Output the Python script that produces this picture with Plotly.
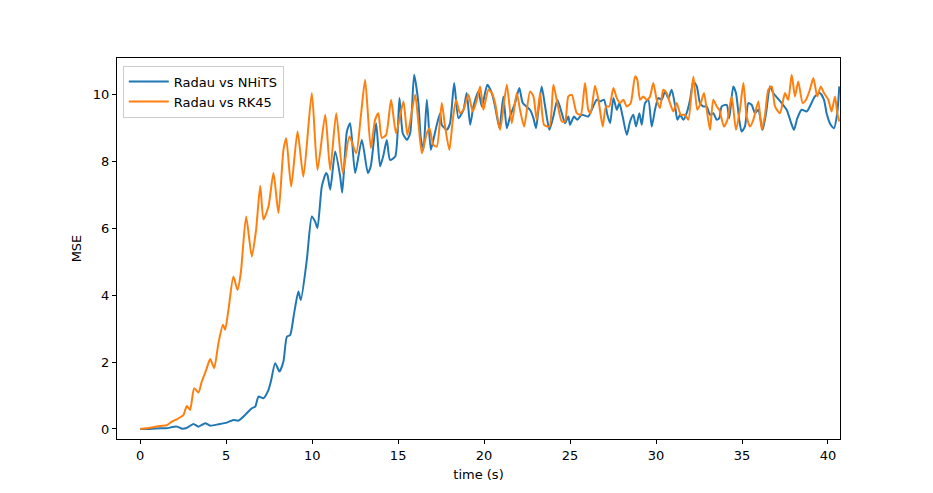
import plotly.graph_objects as go

# Radau vs NHiTS
t_nhits = [0, 0.58, 1.16, 1.5, 2.13, 2.42, 2.7, 3.1, 3.39, 3.78, 4.07, 4.55, 5.04, 5.42, 5.71, 6.1, 6.49,
           6.69, 6.88, 7.17, 7.46, 7.6, 7.85, 8.1, 8.33, 8.53, 8.72, 8.95, 9.2, 9.34, 9.69, 9.98, 10.17,
           10.31, 10.56, 10.81, 10.89, 11.05, 11.34, 11.63, 11.75, 12.02, 12.21, 12.5, 12.89, 13.24, 13.41,
           13.72, 13.95, 14.15, 14.34, 14.53, 14.83, 15.08, 15.27, 15.51, 15.7, 15.93, 16.18, 16.32, 16.47,
           16.67, 16.9, 17.05, 17.25, 17.44, 17.54, 17.83, 18.02, 18.26, 18.51, 18.8, 18.99, 19.19, 19.38,
           19.67, 19.87, 20.19, 20.45, 20.64, 20.89, 21.12, 21.32, 21.51, 21.8, 22.05, 22.25, 22.67, 22.87,
           23.02, 23.16, 23.35, 23.55, 23.8, 24.03, 24.26, 24.52, 24.71, 24.9, 25.0, 25.23, 25.42, 25.68,
           26.06, 26.26, 26.55, 26.74, 26.98, 27.17, 27.33, 27.52, 27.72, 27.87, 28.06, 28.3, 28.49, 28.68,
           28.84, 29.03, 29.17, 29.36, 29.55, 29.75, 29.94, 30.13, 30.33, 30.52, 30.72, 30.91, 31.1, 31.24,
           31.4, 31.59, 31.78, 31.98, 32.17, 32.37, 32.56, 32.75, 32.95, 33.14, 33.33, 33.53, 33.68, 33.82,
           34.11, 34.26, 34.49, 34.65, 34.84, 34.98, 35.17, 35.37, 35.56, 35.76, 35.95, 36.2, 36.4, 36.63,
           36.82, 36.98, 37.31, 37.6, 37.83, 38.02, 38.22, 38.47, 38.76, 38.95, 39.24, 39.53, 39.77, 39.92,
           40.16, 40.35, 40.54, 40.66]
mse_nhits = [0.0, 0.0, 0.02, 0.02, 0.07, 0.01, 0.03, 0.15, 0.07, 0.17, 0.10, 0.14, 0.19, 0.27, 0.25, 0.42, 0.62,
             0.67, 0.97, 0.92, 1.17, 1.42, 1.97, 1.72, 2.02, 2.76, 2.81, 3.46, 4.11, 3.86, 5.06, 6.36, 6.21,
             6.01, 7.25, 7.66, 7.60, 7.16, 8.30, 7.55, 7.07, 8.90, 9.15, 7.66, 8.65, 7.66, 7.86,
             9.15, 7.86, 8.20, 8.65, 8.05, 8.15, 9.90, 8.85, 8.65, 8.85, 10.60, 9.75, 8.70, 8.35,
             9.85, 8.35, 8.65, 9.10, 9.45, 9.10, 8.95, 9.15, 10.35, 9.30, 9.55, 10.05, 9.10, 9.65,
             10.10, 9.65, 10.30, 10.05, 9.65, 9.00, 9.95, 9.00, 9.35, 9.75, 10.20, 9.75, 9.55, 9.30,
             9.00, 9.55, 10.25, 9.65, 8.95, 9.35, 9.85, 9.45, 9.15, 9.35, 9.10, 9.35, 9.25, 9.40,
             9.35, 9.55, 9.85, 9.80, 9.85, 9.40, 9.15, 9.90, 9.55, 9.75, 9.35, 8.80, 9.20, 9.40,
             9.05, 9.45, 9.10, 9.75, 9.85, 9.05, 9.55, 9.90, 9.85, 10.10, 9.90, 10.15, 9.70, 9.25,
             9.40, 9.25, 9.45, 9.85, 10.40, 10.25, 9.75, 9.65, 9.65, 9.40, 9.45, 9.25, 9.30, 9.65,
             9.70, 9.30, 10.25, 10.05, 9.25, 8.90, 9.05, 9.75, 9.70, 9.45, 9.55, 8.95, 9.45, 10.25,
             10.05, 9.95, 9.75, 9.55, 9.20, 8.95, 9.30, 9.55, 9.50, 9.65, 9.95, 10.05, 9.85, 9.45,
             9.10, 9.00, 9.45, 10.25]

# Radau vs RK45
t_rk45 = [0, 0.58, 1.16, 1.55, 1.84, 2.13, 2.33, 2.52, 2.71, 2.9, 3.14, 3.39, 3.58, 3.84, 4.07, 4.3, 4.55,
          4.81, 4.94, 5.13, 5.42, 5.66, 5.85, 6.16, 6.49, 6.74, 6.98, 7.17, 7.46, 7.75, 8.04, 8.33, 8.49,
          8.78, 9.15, 9.49, 9.98, 10.31, 10.76, 11.05, 11.4, 11.78, 12.17, 12.56, 12.83, 13.08, 13.41,
          13.66, 13.85, 14.05, 14.3, 14.59, 14.88, 15.31, 15.54, 15.99, 16.18, 16.38, 16.67, 16.82, 17.05,
          17.25, 17.54, 17.73, 17.98, 18.18, 18.37, 18.6, 18.8, 19.09, 19.34, 19.58, 19.77, 19.96, 20.25,
          20.45, 20.64, 20.93, 21.32, 21.61, 21.9, 22.09, 22.33, 22.67, 22.87, 23.06, 23.26, 23.49, 23.8,
          24.03, 24.26, 24.52, 24.71, 24.9, 25.1, 25.39, 25.62, 25.87, 26.06, 26.2, 26.45, 26.65, 26.9,
          27.09, 27.28, 27.52, 27.72, 27.91, 28.1, 28.3, 28.53, 28.78, 28.91, 29.07, 29.26, 29.46, 29.65,
          29.84, 30.04, 30.23, 30.42, 30.62, 30.81, 31.01, 31.2, 31.44, 31.69, 31.88, 32.17, 32.4, 32.6,
          32.79, 32.95, 33.14, 33.33, 33.53, 33.68, 33.95, 34.15, 34.4, 34.65, 34.88, 35.08, 35.27, 35.47,
          35.66, 35.95, 36.15, 36.34, 36.53, 36.73, 36.92, 37.21, 37.5, 37.69, 37.89, 38.08, 38.27, 38.53,
          38.72, 38.95, 39.15, 39.38, 39.58, 39.77, 40.02, 40.21, 40.41, 40.54, 40.66]
mse_rk45 = [0.0, 0.04, 0.09, 0.11, 0.22, 0.29, 0.35, 0.42, 0.69, 0.57, 1.22, 1.09, 1.42, 1.77, 2.09, 1.82, 2.57,
            3.12, 2.97, 3.56, 4.56, 4.16, 4.67, 6.36, 5.16, 5.96, 7.28, 6.27, 6.66, 7.66, 6.46, 8.35, 8.70,
            7.25, 8.90, 7.55, 10.05, 7.75, 9.40, 7.75, 9.45, 7.66, 8.75, 8.25, 9.35, 10.45, 8.40,
            9.25, 9.45, 8.71, 8.80, 9.85, 8.85, 9.80, 8.80, 10.00, 9.15, 8.25, 8.85, 9.00, 8.50,
            8.45, 9.75, 9.05, 8.35, 9.25, 9.85, 9.45, 9.55, 10.00, 9.50, 9.85, 10.25, 9.55, 10.15,
            10.05, 9.75, 8.95, 10.30, 9.15, 10.05, 9.55, 9.05, 10.10, 9.95, 9.25, 10.05, 9.10, 9.05,
            10.30, 9.75, 9.20, 9.20, 9.95, 10.00, 9.45, 9.40, 10.35, 9.55, 9.45, 10.27, 9.85, 9.05,
            9.65, 9.65, 10.20, 9.90, 9.75, 9.85, 9.65, 9.75, 10.55, 10.45, 9.85, 9.95, 9.85, 9.95,
            10.35, 9.85, 9.60, 10.15, 10.05, 9.75, 9.50, 9.75, 9.40, 9.40, 9.25, 10.55, 9.55, 9.75,
            10.05, 9.55, 8.95, 9.85, 9.65, 9.55, 9.05, 9.25, 9.95, 8.95, 9.55, 10.35, 9.35, 9.05,
            9.25, 9.80, 8.95, 9.40, 10.15, 10.25, 9.65, 9.45, 10.05, 9.85, 10.60, 9.95, 10.40, 9.75,
            9.85, 10.15, 10.50, 9.95, 10.25, 10.05, 9.85, 9.50, 9.95, 9.45, 9.20]

x_ticks = [0, 5, 10, 15, 20, 25, 30, 35, 40]
y_ticks = [0, 2, 4, 6, 8, 10]

fig = go.Figure()
fig.add_trace(go.Scatter(x=t_nhits, y=mse_nhits, mode="lines", name="Radau vs NHiTS",
                         line=dict(color="#1f77b4", width=2, shape="spline", smoothing=0.6)))
fig.add_trace(go.Scatter(x=t_rk45, y=mse_rk45, mode="lines", name="Radau vs RK45",
                         line=dict(color="#ff7f0e", width=2, shape="spline", smoothing=0.6)))

axis_common = dict(showgrid=False, zeroline=False, showline=True, linecolor="black", linewidth=1,
                   mirror=True, ticks="outside", ticklen=4, tickcolor="black",
                   tickfont=dict(family="DejaVu Sans", size=13, color="black"))
fig.update_xaxes(range=[-1.35, 40.7], tickvals=x_ticks, ticktext=[str(v) for v in x_ticks],
                 title=dict(text="time (s)", font=dict(family="DejaVu Sans", size=13, color="black"), standoff=8),
                 **axis_common)
fig.update_yaxes(range=[-0.3, 11.1], tickvals=y_ticks, ticktext=[str(v) for v in y_ticks],
                 title=dict(text="MSE", font=dict(family="DejaVu Sans", size=13, color="black"), standoff=8),
                 **axis_common)
fig.update_layout(
    width=933, height=493,
    margin=dict(l=109, r=101, t=50, b=62),
    paper_bgcolor="white", plot_bgcolor="white",
    font=dict(family="DejaVu Sans", size=13, color="black"),
    legend=dict(x=0.008, y=0.98, xanchor="left", yanchor="top", bgcolor="white",
                bordercolor="#cccccc", borderwidth=1, itemwidth=40, tracegroupgap=0,
                font=dict(family="DejaVu Sans", size=13)),
    showlegend=True,
)
fig.write_html("out.html")
